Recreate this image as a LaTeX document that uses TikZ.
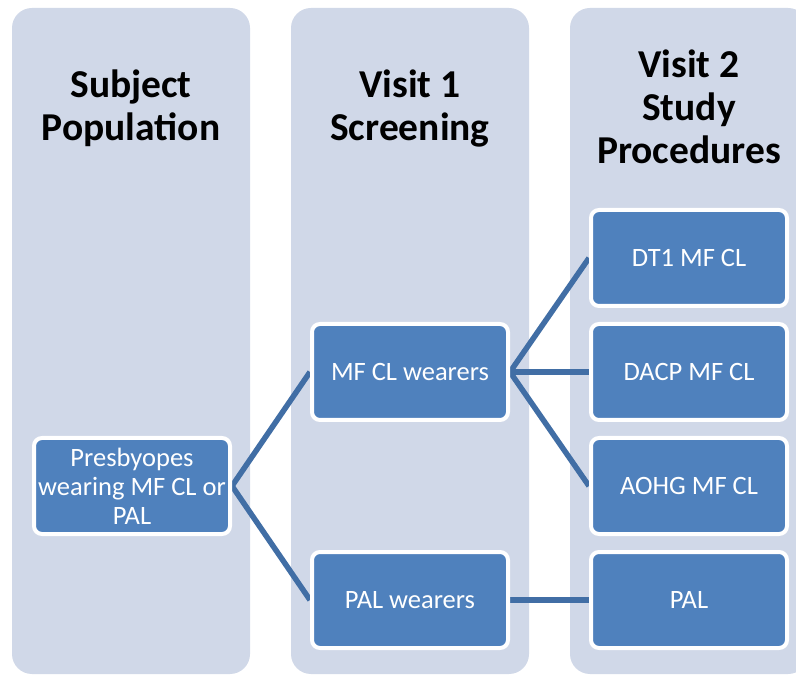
\documentclass[tikz,border=0pt]{standalone}
\usepackage{fontspec}
\setmainfont{Carlito}
\usetikzlibrary{backgrounds}
\definecolor{colbg}{RGB}{208,216,232}
\definecolor{boxblue}{RGB}{79,129,189}
\definecolor{linkblue}{RGB}{65,110,165}
\tikzset{
  column/.style={fill=colbg, rounded corners=20pt},
  title/.style={font=\bfseries\fontsize{39.5}{43}\selectfont, text=black, align=center},
  stepbox/.style={draw=white, line width=4pt, fill=boxblue, rounded corners=8pt,
    minimum width=196pt, minimum height=96pt, text=white, align=center,
    font=\fontsize{26.5}{29}\selectfont, inner sep=1pt},
  link/.style={draw=linkblue, line width=5.5pt}
}
\begin{document}
\begin{tikzpicture}[x=1pt,y=-1pt]
\clip (0,0) rectangle (796,676);
\useasboundingbox (0,0) rectangle (796,676);
\begin{scope}[on background layer]
\fill[white] (0,0) rectangle (796,676);
% columns
\fill[column] (12,8) rectangle (250,674);
\fill[column] (291,8) rectangle (529,674);
\fill[column] (570,8) rectangle (808,674);
\end{scope}
% titles
\node[title] (t1) at (131,108) {Subject\\Population};
\node[title] (t2) at (410,108) {Visit 1\\Screening};
\node[title] (t3) at (689,107) {Visit 2\\Study\\Procedures};
% boxes
\node[stepbox] (pres) at (132,486) {Presbyopes\\wearing MF CL or\\PAL};
\node[stepbox] (mfcl) at (410,372) {MF CL wearers};
\node[stepbox] (palw) at (410,600) {PAL wearers};
\node[stepbox] (dt1) at (689,258) {DT1 MF CL};
\node[stepbox] (dacp) at (689,372) {DACP MF CL};
\node[stepbox] (aohg) at (689,486) {AOHG MF CL};
\node[stepbox] (pal) at (689,600) {PAL};
% connectors
\begin{scope}[on background layer]
\draw[link] (pres.east) -- (mfcl.west);
\draw[link] (pres.east) -- (palw.west);
\draw[link] (mfcl.east) -- (dt1.west);
\draw[link] (mfcl.east) -- (dacp.west);
\draw[link] (mfcl.east) -- (aohg.west);
\draw[link] (palw.east) -- (pal.west);
\end{scope}
\end{tikzpicture}
\end{document}
